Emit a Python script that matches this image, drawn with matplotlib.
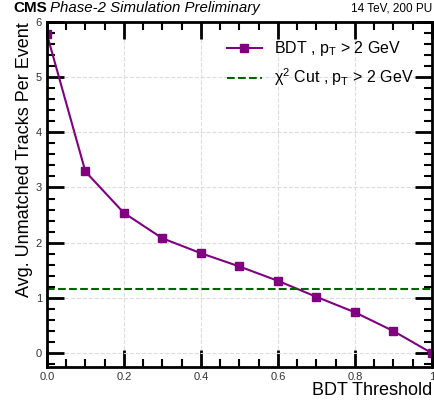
import numpy as np
import matplotlib
matplotlib.use("Agg")
import matplotlib.pyplot as plt
from matplotlib.ticker import MultipleLocator

plt.rcParams['font.family'] = ['Liberation Sans', 'DejaVu Sans']
plt.rcParams['mathtext.fontset'] = 'custom'
plt.rcParams['mathtext.rm'] = 'Liberation Sans'
plt.rcParams['mathtext.it'] = 'Liberation Sans'

thresholds = [0.0, 0.1, 0.2, 0.3, 0.4, 0.5, 0.6, 0.7, 0.8, 0.9, 1.0]
bdt_unmatched = [5.78, 3.29, 2.54, 2.08, 1.81, 1.57, 1.31, 1.02, 0.74, 0.40, 0.0]
chi2_unmatched = 1.16

fig = plt.figure(figsize=(4.34, 4.05), dpi=100)
ax = fig.add_axes([0.108, 0.094, 0.887, 0.852])

ax.plot(thresholds, bdt_unmatched, color='purple', marker='s', markersize=5.5,
        linewidth=1.5, label=r'BDT , $\mathregular{p_T}$ > 2 GeV')
ax.axhline(chi2_unmatched, color='darkgreen', linestyle='--', linewidth=1.5,
           label=r'$\mathregular{\chi^2}$ Cut , $\mathregular{p_T}$ > 2 GeV')

ax.set_xlim(0, 1)
ax.set_ylim(-0.25, 6)
ax.xaxis.set_minor_locator(MultipleLocator(0.05))
ax.yaxis.set_major_locator(MultipleLocator(1))
ax.yaxis.set_minor_locator(MultipleLocator(0.2))
ax.set_xticks([0.0, 0.2, 0.4, 0.6, 0.8, 1.0])
ax.set_xticklabels(['0.0', '0.2', '0.4', '0.6', '0.8', '1'])
ax.tick_params(which='both', direction='in', top=True, right=True, labelsize=8,
               labelcolor='#333333')
ax.tick_params(which='major', length=12, width=2)
ax.tick_params(which='minor', length=6, width=1.5)
for s in ax.spines.values():
    s.set_linewidth(2)
ax.grid(True, which='major', color='#dddddd', linestyle='--', linewidth=0.8)

ax.set_xlabel('BDT Threshold', fontsize=13, loc='right', labelpad=0)
ax.set_ylabel('Avg. Unmatched Tracks Per Event', fontsize=13, loc='top', labelpad=2)

ax.legend(loc='upper right', frameon=False, fontsize=11.5, handlelength=2.2,
          borderaxespad=0.7)

ax.text(-0.087, 1.02, 'CMS', transform=ax.transAxes, fontsize=11, fontweight='bold',
        ha='left', va='bottom')
ax.text(0.008, 1.02, 'Phase-2 Simulation Preliminary', transform=ax.transAxes,
        fontsize=10.8, style='italic', ha='left', va='bottom')
ax.text(1.0, 1.02, '14 TeV, 200 PU', transform=ax.transAxes, fontsize=8.5,
        ha='right', va='bottom')

fig.savefig('out.png', dpi=100)
